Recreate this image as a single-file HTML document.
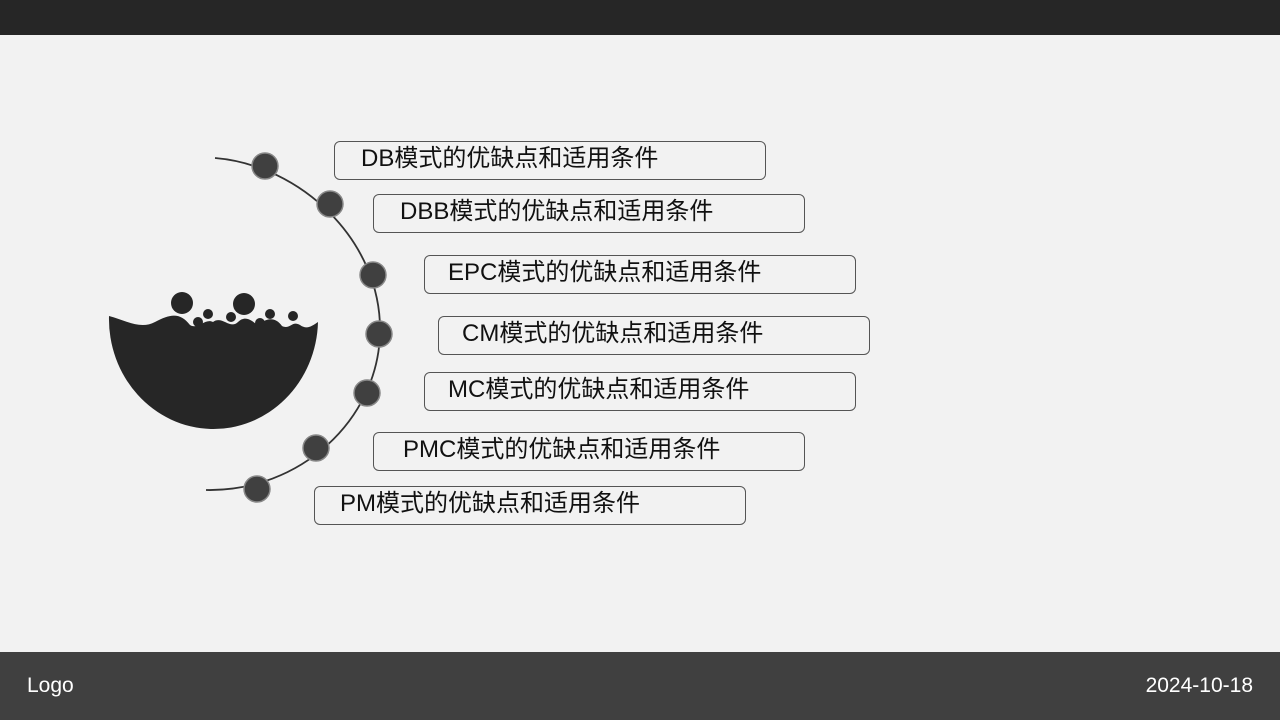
<!DOCTYPE html>
<html><head><meta charset="utf-8"><style>
body{margin:0;width:1280px;height:720px;background:#f2f2f2;position:relative;overflow:hidden;font-family:"Liberation Sans","Noto Sans CJK SC",sans-serif}
.top{position:absolute;left:0;top:0;width:1280px;height:35px;background:#262626}
.bot{position:absolute;left:0;top:652px;width:1280px;height:68px;background:#404040;color:#fff;font-size:21px}
.box{position:absolute;width:432px;height:39px;border:1.5px solid #555;border-radius:6px;box-sizing:border-box;font-size:24px;line-height:34px;color:#111;padding-left:26px;white-space:nowrap}
</style></head><body>
<div class="top"></div>
<svg width="1280" height="720" style="position:absolute;left:0;top:0">
<path d="M215,158 C300,165 382,240 380,333 C378,420 300,492 206,490" fill="none" stroke="#333" stroke-width="1.8"/>
<path d="M109,316 C125,320 140,330 155,322 C170,314 180,312 190,325 C198,330 205,318 213,322 C222,315 230,330 238,322 C245,315 252,320 258,326 C265,318 275,316 282,326 C290,330 292,320 300,325 C307,330 312,326 318,322 A104.5,110 0 0 1 109,316 Z" fill="#262626"/>
<g fill="#262626"><circle cx="182" cy="303" r="11"/><circle cx="244" cy="304" r="11"/><circle cx="208" cy="314" r="5"/><circle cx="231" cy="317" r="5"/><circle cx="270" cy="314" r="5"/><circle cx="293" cy="316" r="5"/><circle cx="198" cy="322" r="5"/><circle cx="260" cy="323" r="5"/></g>
<g fill="#404040" stroke="#888" stroke-width="1.5">
<circle cx="265" cy="166" r="13"/><circle cx="330" cy="204" r="13"/><circle cx="373" cy="275" r="13"/><circle cx="379" cy="334" r="13"/><circle cx="367" cy="393" r="13"/><circle cx="316" cy="448" r="13"/><circle cx="257" cy="489" r="13"/>
</g>
</svg>
<div class="box" style="left:334px;top:141px">DB模式的优缺点和适用条件</div>
<div class="box" style="left:373px;top:194px">DBB模式的优缺点和适用条件</div>
<div class="box" style="left:424px;top:255px;padding-left:23px">EPC模式的优缺点和适用条件</div>
<div class="box" style="left:438px;top:316px;padding-left:23px">CM模式的优缺点和适用条件</div>
<div class="box" style="left:424px;top:372px;padding-left:23px">MC模式的优缺点和适用条件</div>
<div class="box" style="left:373px;top:432px;padding-left:29px">PMC模式的优缺点和适用条件</div>
<div class="box" style="left:314px;top:486px;padding-left:25px">PM模式的优缺点和适用条件</div>
<div class="bot"><span style="position:absolute;left:27px;top:22px">Logo</span><span style="position:absolute;right:27px;top:22px">2024-10-18</span></div>
</body></html>
